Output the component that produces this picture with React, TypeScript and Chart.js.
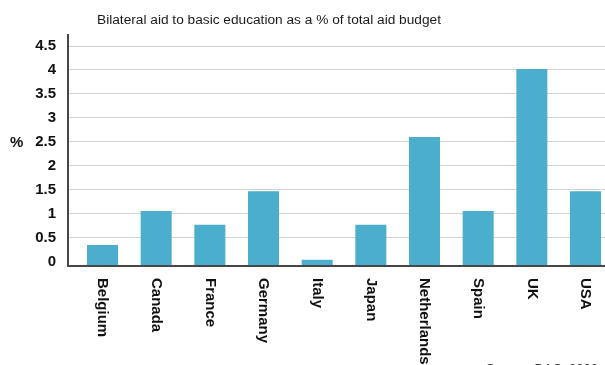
import React, { useEffect, useRef } from 'react';
import { Chart, registerables } from 'chart.js';

Chart.register(...registerables);

const title = 'Bilateral aid to basic education as a % of total aid budget';
const categories = ['Belgium', 'Canada', 'France', 'Germany', 'Italy', 'Japan', 'Netherlands', 'Spain', 'UK', 'USA'];
const values = [0.35, 1.06, 0.77, 1.47, 0.04, 0.77, 2.6, 1.06, 4.02, 1.47];
const yTicks = [0, 0.5, 1, 1.5, 2, 2.5, 3, 3.5, 4, 4.5];
const yUnit = '%';
const source = 'Source: DAC, 2002';

const FONT = '"Liberation Sans", Arial, sans-serif';
const Y_MIN = -0.09;
const Y_MAX = 4.73;
const X_MIN = -0.643;
const X_MAX = 9.363;
const BAR_COLOR = '#4BAECD';
const AXIS_COLOR = '#474747';

const textPlugin = {
  id: 'texts',
  afterDraw(chart: any) {
    const ctx = chart.ctx;
    const xs = chart.scales.x;
    ctx.save();
    ctx.fillStyle = '#1a1a1a';
    ctx.font = `13.7px ${FONT}`;
    ctx.textAlign = 'center';
    ctx.textBaseline = 'middle';
    ctx.fillText(title, 269, 20);

    ctx.fillStyle = '#111';
    ctx.font = `bold 15px ${FONT}`;
    ctx.textAlign = 'left';
    ctx.fillText(yUnit, 10, 143);

    categories.forEach((c, i) => {
      const px = xs.getPixelForValue(i);
      ctx.save();
      ctx.translate(px, xs.top + 12);
      ctx.rotate(Math.PI / 2);
      ctx.textAlign = 'left';
      ctx.textBaseline = 'middle';
      ctx.fillText(c, 0, 0);
      ctx.restore();
    });

    ctx.fillStyle = '#333';
    ctx.font = `13px ${FONT}`;
    ctx.textAlign = 'left';
    ctx.textBaseline = 'top';
    ctx.fillText(source, 486, 363);
    ctx.restore();
  },
};

export default function App() {
  const ref = useRef<HTMLCanvasElement | null>(null);

  useEffect(() => {
    if (!ref.current) return;
    const chart = new Chart(ref.current, {
      type: 'bar',
      data: {
        datasets: [
          {
            data: categories.map((_, i) => ({ x: i, y: values[i] })),
            backgroundColor: BAR_COLOR,
            borderWidth: 0,
            base: Y_MIN,
            categoryPercentage: 1,
            barPercentage: 0.578,
          } as any,
        ],
      },
      options: {
        animation: false,
        responsive: false,
        devicePixelRatio: 1,
        layout: { padding: { top: 35, left: 0, right: 0, bottom: 0 } },
        plugins: {
          legend: { display: false },
          tooltip: { enabled: false },
          title: { display: false },
        },
        scales: {
          x: {
            type: 'linear',
            offset: false,
            min: X_MIN,
            max: X_MAX,
            grid: { display: false, drawTicks: false, offset: false },
            border: { display: true, color: AXIS_COLOR, width: 2, z: 1 },
            ticks: { display: false },
            afterBuildTicks: (s: any) => {
              s.ticks = categories.map((_, i) => ({ value: i }));
            },
            afterFit: (s: any) => {
              s.height = 99;
            },
          },
          y: {
            min: Y_MIN,
            max: Y_MAX,
            afterBuildTicks: (s: any) => {
              s.ticks = yTicks.map((v) => ({ value: v }));
            },
            afterFit: (s: any) => {
              s.width = 68;
            },
            grid: {
              drawTicks: false,
              color: (c: any) => (c.tick && c.tick.value === 0 ? 'rgba(0,0,0,0)' : '#d2d2d2'),
              lineWidth: 1,
            },
            border: { display: true, color: AXIS_COLOR, width: 2, z: 1 },
            ticks: {
              padding: 12,
              color: '#111',
              font: { family: FONT, size: 15, weight: 'bold' },
              callback: (v: any) => String(v),
            },
          },
        },
      } as any,
      plugins: [textPlugin],
    });
    return () => chart.destroy();
  }, []);

  return (
    <div style={{ width: 605, height: 365, overflow: 'hidden' }}>
      <style>{'body{margin:0;overflow:hidden;}'}</style>
      <canvas ref={ref} width={605} height={365} style={{ display: 'block' }} />
    </div>
  );
}
